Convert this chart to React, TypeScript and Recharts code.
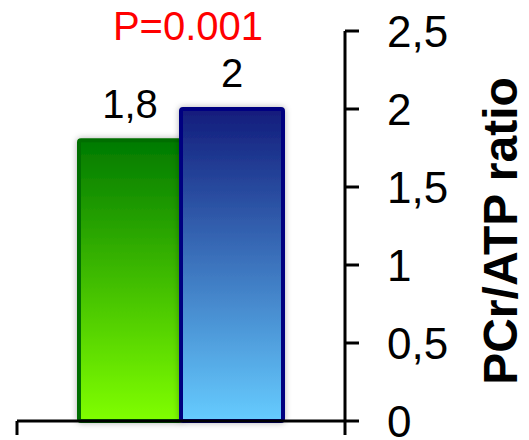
import { BarChart, Bar, XAxis, YAxis, LabelList } from 'recharts';

// values
const categories = [''];
const groupA = [1.8];
const groupB = [2];
const yTicks = [0, 0.5, 1, 1.5, 2, 2.5];
const pLabel = 'P=0.001';
const yLabel = 'PCr/ATP ratio';

const data = categories.map((name, i) => ({ name, a: groupA[i], b: groupB[i] }));

const FONT = '"Liberation Sans", Arial, sans-serif';
const comma = (v: any) => String(v).replace('.', ',');

// category axis ticks are drawn at the band edges (Excel style), not at the centre
function EdgeTicks(props: any) {
    const { x, y, payload } = props;
    const half = payload.offset || 0;
    return (
        <g>
            <line x1={x - half} y1={y} x2={x - half} y2={y + 14} stroke="#000" strokeWidth={3} />
            <line x1={x + half} y1={y} x2={x + half} y2={y + 14} stroke="#000" strokeWidth={3} />
        </g>
    );
}

export default function App() {
    return (
        <div style={{ position: 'absolute', left: 0, top: 0 }}>
            <BarChart
                width={529}
                height={440}
                data={data}
                margin={{ top: 31, right: 0, left: 17, bottom: 0 }}
                barGap={0}
                barSize={102}
            >
                <defs>
                    <linearGradient id="gGreen" x1="0" y1="0" x2="0" y2="1">
                        <stop offset="0%" stopColor="#007a00" />
                        <stop offset="100%" stopColor="#80ff00" />
                    </linearGradient>
                    <linearGradient id="gBlue" x1="0" y1="0" x2="0" y2="1">
                        <stop offset="0%" stopColor="#121c7c" />
                        <stop offset="100%" stopColor="#66ccff" />
                    </linearGradient>
                    <filter id="barShadow" x="-20%" y="-20%" width="140%" height="140%">
                        <feDropShadow dx="0" dy="0" stdDeviation="3" floodColor="#000" floodOpacity="0.3" />
                    </filter>
                </defs>
                <XAxis
                    dataKey="name"
                    height={19}
                    tickSize={0}
                    tickMargin={0}
                    tickLine={false}
                    interval={0}
                    tick={<EdgeTicks />}
                    axisLine={{ stroke: '#000', strokeWidth: 3 }}
                />
                <YAxis
                    orientation="right"
                    domain={[0, 2.5]}
                    ticks={yTicks}
                    interval={0}
                    width={184}
                    tickSize={14}
                    tickMargin={28}
                    tickFormatter={comma}
                    axisLine={{ stroke: '#000', strokeWidth: 3 }}
                    tickLine={{ stroke: '#000', strokeWidth: 3 }}
                    tick={{ fill: '#000', fontSize: 44, fontFamily: FONT }}
                />
                <Bar
                    dataKey="a"
                    fill="url(#gGreen)"
                    stroke="#006e00"
                    strokeWidth={4}
                    radius={2}
                    filter="url(#barShadow)"
                    isAnimationActive={false}
                >
                    <LabelList dataKey="a" position="top" offset={22} formatter={comma} fill="#000" fontSize={40} fontFamily={FONT} />
                </Bar>
                <Bar
                    dataKey="b"
                    fill="url(#gBlue)"
                    stroke="#000080"
                    strokeWidth={4}
                    radius={2}
                    filter="url(#barShadow)"
                    isAnimationActive={false}
                >
                    <LabelList dataKey="b" position="top" offset={22} formatter={comma} fill="#000" fontSize={40} fontFamily={FONT} />
                </Bar>
                <text x={188} y={40} textAnchor="middle" fill="#ff0000" fontSize={40} fontFamily={FONT}>
                    {pLabel}
                </text>
                <text
                    x={517}
                    y={231}
                    transform="rotate(-90 517 231)"
                    textAnchor="middle"
                    fill="#000"
                    fontSize={48}
                    fontWeight="bold"
                    fontFamily={FONT}
                >
                    {yLabel}
                </text>
            </BarChart>
        </div>
    );
}
